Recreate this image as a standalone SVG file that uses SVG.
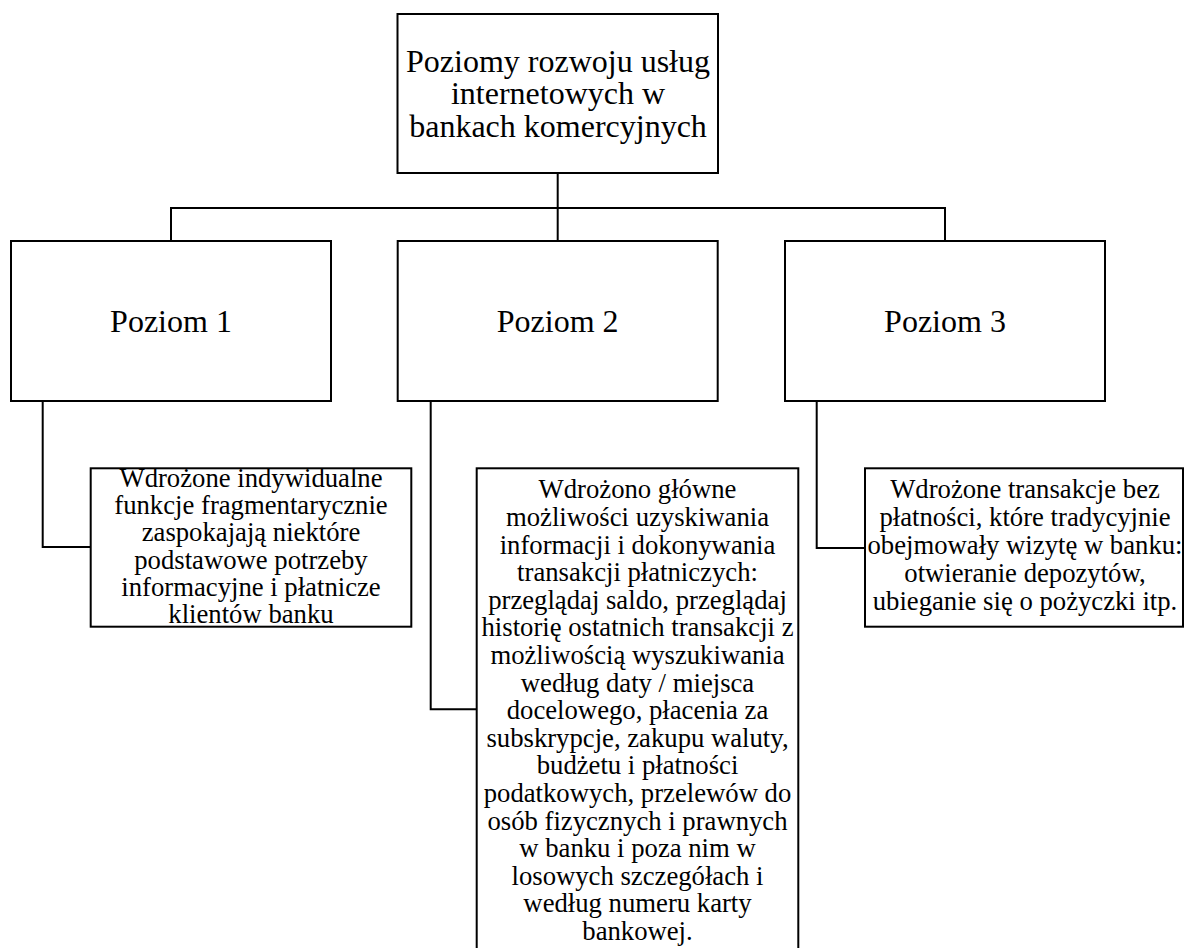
<svg xmlns="http://www.w3.org/2000/svg" width="1184" height="948" viewBox="0 0 1184 948" font-family="'Liberation Serif', 'Times New Roman', Times, 'DejaVu Serif', serif">
  <style>
    .box { fill: #ffffff; stroke: #000000; stroke-width: 2; }
    .link { fill: none; stroke: #000000; stroke-width: 2; }
    .t { font-family: 'Liberation Serif', 'Times New Roman', Times, 'DejaVu Serif', serif; fill: #000000; text-anchor: middle; }
    .title { font-size: 32px; }
    .level { font-size: 32px; }
    .desc { font-size: 26.7px; }
  </style>
  <rect width="1184" height="948" fill="#ffffff"/>

  <!-- connectors -->
  <g id="connectors">
    <polyline class="link" points="557.7,173 557.7,208"/>
    <polyline class="link" points="171,241 171,208 945,208 945,241"/>
    <polyline class="link" points="557.7,208 557.7,241"/>
    <polyline class="link" points="42.7,401 42.7,547 90.7,547"/>
    <polyline class="link" points="430.7,401 430.7,709.3 476.7,709.3"/>
    <polyline class="link" points="816.7,401 816.7,548 865,548"/>
  </g>

  <!-- root -->
  <g id="root">
    <rect class="box" x="397.5" y="14" width="320.5" height="159"/>
    <text class="t title" x="558" y="71.7">Poziomy rozwoju usług</text>
    <text class="t title" x="558" y="104.2">internetowych w</text>
    <text class="t title" x="558" y="136.7">bankach komercyjnych</text>
  </g>

  <!-- levels -->
  <g id="level1">
    <rect class="box" x="11" y="241" width="320" height="160"/>
    <text class="t level" x="171" y="331.7">Poziom 1</text>
  </g>
  <g id="level2">
    <rect class="box" x="397.7" y="241" width="320" height="160"/>
    <text class="t level" x="557.7" y="331.7">Poziom 2</text>
  </g>
  <g id="level3">
    <rect class="box" x="785" y="241" width="320" height="160"/>
    <text class="t level" x="945" y="331.7">Poziom 3</text>
  </g>

  <!-- level descriptions -->
  <g id="desc1">
    <rect class="box" x="90.7" y="468.3" width="320.6" height="158.4"/>
    <text class="t desc" x="251" y="486.7">Wdrożone indywidualne</text>
    <text class="t desc" x="251" y="514.0">funkcje fragmentarycznie</text>
    <text class="t desc" x="251" y="541.4">zaspokajają niektóre</text>
    <text class="t desc" x="251" y="568.7">podstawowe potrzeby</text>
    <text class="t desc" x="251" y="596.0">informacyjne i płatnicze</text>
    <text class="t desc" x="251" y="623.3">klientów banku</text>
  </g>

  <g id="desc2">
    <rect class="box" x="476.7" y="468.3" width="321.6" height="490"/>
    <text class="t desc" x="637.5" y="498.3">Wdrożono główne</text>
    <text class="t desc" x="637.5" y="525.9">możliwości uzyskiwania</text>
    <text class="t desc" x="637.5" y="553.5">informacji i dokonywania</text>
    <text class="t desc" x="637.5" y="581.1">transakcji płatniczych:</text>
    <text class="t desc" x="637.5" y="608.7">przeglądaj saldo, przeglądaj</text>
    <text class="t desc" x="637.5" y="636.3">historię ostatnich transakcji z</text>
    <text class="t desc" x="637.5" y="663.9">możliwością wyszukiwania</text>
    <text class="t desc" x="637.5" y="691.5">według daty / miejsca</text>
    <text class="t desc" x="637.5" y="719.1">docelowego, płacenia za</text>
    <text class="t desc" x="637.5" y="746.7">subskrypcje, zakupu waluty,</text>
    <text class="t desc" x="637.5" y="774.3">budżetu i płatności</text>
    <text class="t desc" x="637.5" y="801.9">podatkowych, przelewów do</text>
    <text class="t desc" x="637.5" y="829.5">osób fizycznych i prawnych</text>
    <text class="t desc" x="637.5" y="857.1">w banku i poza nim w</text>
    <text class="t desc" x="637.5" y="884.7">losowych szczegółach i</text>
    <text class="t desc" x="637.5" y="912.3">według numeru karty</text>
    <text class="t desc" x="637.5" y="939.9">bankowej.</text>
  </g>

  <g id="desc3">
    <rect class="box" x="865" y="468.3" width="318" height="158.4"/>
    <text class="t desc" x="1025" y="498.3">Wdrożone transakcje bez</text>
    <text class="t desc" x="1025" y="526.2">płatności, które tradycyjnie</text>
    <text class="t desc" x="1025" y="554.1">obejmowały wizytę w banku:</text>
    <text class="t desc" x="1025" y="582.0">otwieranie depozytów,</text>
    <text class="t desc" x="1025" y="610.0">ubieganie się o pożyczki itp.</text>
  </g>
</svg>
